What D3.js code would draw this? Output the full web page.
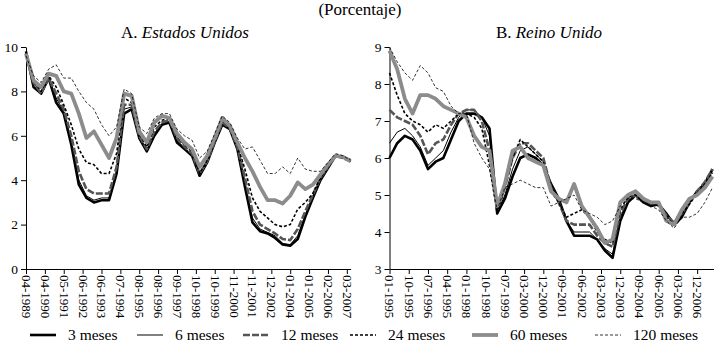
<!DOCTYPE html>
<html>
<head>
<meta charset="utf-8">
<script src="https://cdn.jsdelivr.net/npm/d3@7"></script>
<style>
body { margin: 0; background: #fff; }
svg { display: block; }
svg text { font-family: "Liberation Serif", "Times New Roman", serif; }
</style>
</head>
<body>
<svg id="drawing_region"></svg>
<script>
// category labels on the x axes
const catsUS = ["04-1989","04-1990","05-1991","06-1992","06-1993","07-1994","08-1995","08-1996","09-1997",
                "10-1998","10-1999","11-2000","11-2001","12-2002","01-2004","01-2005","02-2006","03-2007"];
const catsUK = ["01-1995","10-1995","07-1996","04-1995","01-1998","10-1998","07-1999","03-2000","12-2000",
                "09-2001","06-2002","03-2003","12-2003","09-2004","06-2005","03-2006","12-2006"];
const seriesNames = ["3 meses","6 meses","12 meses","24 meses","60 meses","120 meses"];

// values read every 0.4 of a label step
const us3   = [9.8,8.2,7.9,8.6,7.5,7.0,5.6,3.8,3.2,3.0,3.1,3.1,4.3,7.0,7.2,5.9,5.3,6.0,6.5,6.6,5.7,5.4,5.1,4.2,4.8,5.7,6.5,6.3,5.4,3.7,2.1,1.7,1.6,1.4,1.1,1.05,1.35,2.35,3.2,4.0,4.55,5.1,5.05,4.9];
const us6   = [9.8,8.4,7.9,8.6,7.7,7.1,5.8,4.0,3.3,3.1,3.2,3.2,4.4,7.2,7.3,5.95,5.35,6.1,6.55,6.65,5.8,5.45,5.15,4.3,4.8,5.7,6.55,6.3,5.45,3.9,2.3,1.8,1.65,1.5,1.15,1.1,1.5,2.45,3.25,4.05,4.6,5.1,5.05,4.9];
const us12  = [9.7,8.4,7.9,8.6,7.9,7.2,6.0,4.4,3.6,3.4,3.4,3.4,4.6,7.4,7.4,6.0,5.4,6.2,6.6,6.7,5.9,5.5,5.2,4.3,4.85,5.75,6.6,6.35,5.5,4.1,2.6,2.0,1.8,1.6,1.35,1.3,1.8,2.6,3.35,4.1,4.6,5.1,5.0,4.85];
const us24  = [9.7,8.5,8.0,8.7,8.2,7.4,6.5,5.4,4.8,4.7,4.3,4.3,5.2,7.7,7.5,6.1,5.5,6.4,6.7,6.8,6.0,5.6,5.3,4.3,4.9,5.8,6.7,6.4,5.6,4.5,3.2,2.6,2.3,2.0,1.9,2.0,2.7,3.0,3.4,4.1,4.6,5.1,5.0,4.85];
const us60  = [9.7,8.5,8.2,8.8,8.7,8.0,7.9,7.0,5.9,6.2,5.6,5.0,5.9,7.9,7.8,6.2,5.7,6.6,6.9,6.8,6.1,5.7,5.4,4.6,5.1,5.9,6.8,6.45,5.7,5.0,4.4,3.7,3.1,3.1,2.95,3.3,3.9,3.6,3.8,4.25,4.7,5.1,5.05,4.85];
const us120 = [9.6,8.7,8.4,9.0,9.2,8.6,8.6,8.0,7.5,7.2,6.5,6.0,6.4,8.1,7.9,6.4,6.1,6.8,7.0,7.0,6.3,6.0,5.8,5.0,5.3,6.1,6.9,6.6,5.9,5.4,5.5,4.9,4.3,4.3,4.6,4.3,5.0,4.5,4.4,4.4,4.8,5.2,5.1,4.9];

const uk3   = [6.0,6.4,6.6,6.5,6.2,5.7,5.9,6.0,6.5,7.0,7.2,7.2,7.1,6.8,4.5,4.9,5.5,6.0,6.1,6.0,5.8,5.3,4.9,4.3,3.9,3.9,3.9,3.8,3.5,3.3,4.3,4.8,5.0,4.8,4.7,4.75,4.5,4.2,4.4,4.8,5.1,5.3,5.7];
const uk6   = [6.4,6.7,6.8,6.6,6.3,5.8,6.0,6.2,6.7,7.1,7.3,7.3,7.1,6.6,4.5,5.0,5.7,6.2,6.3,6.1,5.9,5.3,4.9,4.3,4.0,4.0,4.0,3.8,3.55,3.4,4.4,4.85,5.0,4.85,4.75,4.75,4.5,4.25,4.45,4.8,5.1,5.35,5.7];
const uk12  = [7.3,7.1,7.0,6.9,6.6,6.1,6.4,6.5,6.9,7.2,7.3,7.3,7.0,6.2,4.6,5.2,6.0,6.4,6.4,6.2,6.0,5.2,4.8,4.3,4.2,4.2,4.2,3.9,3.7,3.6,4.5,4.9,5.0,4.9,4.8,4.75,4.45,4.25,4.5,4.8,5.1,5.35,5.7];
const uk24  = [8.3,7.7,7.2,7.0,6.9,6.7,6.9,6.8,7.0,7.2,7.2,7.1,6.8,5.8,4.5,5.2,6.0,6.5,6.3,6.1,5.9,5.1,4.8,4.4,4.5,4.6,4.4,4.0,3.8,3.7,4.6,4.95,5.0,4.9,4.8,4.7,4.4,4.2,4.5,4.75,5.05,5.3,5.6];
const uk60  = [8.9,8.4,7.6,7.2,7.7,7.7,7.6,7.4,7.3,7.2,7.1,6.6,6.3,6.2,4.7,5.3,6.2,6.3,6.0,5.9,5.8,5.1,4.9,4.8,5.3,4.7,4.4,4.1,3.7,3.8,4.8,5.0,5.1,4.9,4.8,4.8,4.3,4.2,4.6,4.9,5.0,5.2,5.5];
const uk120 = [9.0,8.6,8.3,8.1,8.5,8.3,7.9,7.8,7.4,7.2,7.2,6.4,6.0,5.7,4.6,5.2,5.3,5.4,5.3,5.2,5.2,4.7,4.8,4.9,5.0,4.6,4.5,4.4,4.2,4.3,4.7,4.9,4.9,4.8,4.7,4.6,4.3,4.1,4.4,4.4,4.5,4.8,5.2];

const step = 0.4;
const fontFamily = '"Liberation Serif", "Times New Roman", serif';

const styles = [
    {color: "#000", width: 2.6, dash: null},
    {color: "#000", width: 1,   dash: null},
    {color: "#555", width: 2.6, dash: "7,2"},
    {color: "#000", width: 1.6, dash: "3,2"},
    {color: "#8c8c8c", width: 3.8, dash: null},
    {color: "#000", width: 0.8, dash: "3,2"}
];

const svg = d3.select('#drawing_region')
    .attr('width', 717)
    .attr('height', 344)
    .attr('font-family', fontFamily);

function drawPanel( cfg, cats, series ) {
    const xscale = d3.scaleLinear()
        .domain([0, cfg.tEnd])
        .range([cfg.left, cfg.right]);
    const yscale = d3.scaleLinear()
        .domain(cfg.ydomain)
        .range([cfg.bottom, cfg.top]);

    const yaxis = d3.axisLeft(yscale)
        .tickValues(cfg.yticks)
        .tickFormat(d3.format('d'))
        .tickSize(5)
        .tickSizeOuter(0)
        .tickPadding(3);
    const yg = svg.append('g')
        .attr('transform', `translate(${cfg.left}, 0)`)
        .call(yaxis);
    yg.attr('font-family', fontFamily).attr('font-size', 13.5);

    const xaxis = d3.axisBottom(xscale)
        .tickValues(d3.range(cats.length))
        .tickFormat(i => cats[i])
        .tickSize(5)
        .tickSizeOuter(0);
    const xg = svg.append('g')
        .attr('transform', `translate(0, ${cfg.bottom})`)
        .call(xaxis);
    xg.attr('font-family', fontFamily).attr('font-size', 13);
    xg.selectAll('text')
        .attr('x', 6)
        .attr('y', 0)
        .attr('dy', '0.35em')
        .attr('transform', 'rotate(90)')
        .attr('text-anchor', 'start');

    const line = d3.line()
        .x((d, j) => xscale(j * step))
        .y(d => yscale(d));

    series.forEach((vals, i) => {
        svg.append('path')
            .datum(vals)
            .attr('d', line)
            .attr('fill', 'none')
            .attr('stroke', styles[i].color)
            .attr('stroke-width', styles[i].width)
            .attr('stroke-dasharray', styles[i].dash)
            .attr('stroke-linejoin', 'round');
    });

    const title = svg.append('text')
        .attr('x', cfg.titleX)
        .attr('y', 38)
        .attr('text-anchor', 'middle')
        .attr('font-size', 17);
    title.append('tspan').text(cfg.prefix);
    title.append('tspan').attr('font-style', 'italic').text(cfg.name);
}

drawPanel({left: 26, right: 350.6, top: 47, bottom: 269, tEnd: 17.2,
           ydomain: [0, 10], yticks: [0, 2, 4, 6, 8, 10],
           titleX: 185, prefix: "A. ", name: "Estados Unidos"},
          catsUS, [us3, us6, us12, us24, us60, us120]);

drawPanel({left: 389.5, right: 713.5, top: 47, bottom: 269, tEnd: 16.85,
           ydomain: [3, 9], yticks: [3, 4, 5, 6, 7, 8, 9],
           titleX: 549, prefix: "B. ", name: "Reino Unido"},
          catsUK, [uk3, uk6, uk12, uk24, uk60, uk120]);

svg.append('text')
    .attr('x', 360)
    .attr('y', 15)
    .attr('text-anchor', 'middle')
    .attr('font-size', 17)
    .text("(Porcentaje)");

// legend
const legendX = [30, 137, 243, 350, 472, 595];
const legend = svg.append('g');
seriesNames.forEach((name, i) => {
    legend.append('line')
        .attr('x1', legendX[i])
        .attr('x2', legendX[i] + 26)
        .attr('y1', 335)
        .attr('y2', 335)
        .attr('stroke', styles[i].color)
        .attr('stroke-width', styles[i].width)
        .attr('stroke-dasharray', styles[i].dash);
    legend.append('text')
        .attr('x', legendX[i] + 38)
        .attr('y', 339.5)
        .attr('font-size', 15.5)
        .text(name);
});
</script>
</body>
</html>
